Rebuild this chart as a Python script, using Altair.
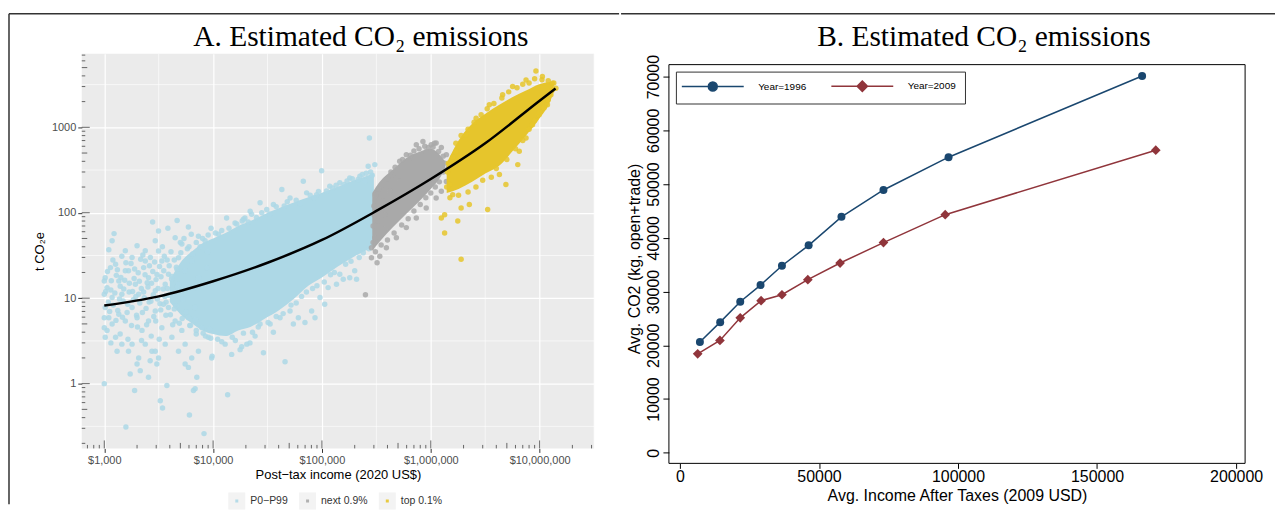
import altair as alt
import pandas as pd

# ================= Panel A : household estimates (post-tax income, t CO2e) =================
group_names = ["P0−P99", "next 0.9%", "top 0.1%"]
group_colors = ["#ADD8E6", "#A9A9A9", "#E6C52C"]

blue_points = [
    (2780, 78), (4670, 81), (1230, 57), (1180, 47), (1560, 36), (2000, 41), (3150, 61), (3840, 66),
    (5930, 68), (7330, 53), (9570, 66), (13300, 87), (15900, 76), (19600, 87), (22600, 96), (1100, 37),
    (1450, 31), (1800, 30), (2380, 36), (2940, 47), (4480, 51), (5160, 43), (8430, 47), (11200, 56),
    (1020, 17.4), (1060, 13.3), (1140, 22.8), (1270, 24.9), (1360, 15.9), (1670, 20.9), (1930, 14.6),
    (2300, 22.8), (2550, 17.4), (3380, 27.2), (3890, 19.1), (4810, 29.8), (5530, 20.9), (6360, 27.2),
    (7330, 17.4), (8740, 22.8), (3630, 14.6), (2940, 12.2), (2070, 11.1), (1450, 11.1), (1180, 10.2),
    (6830, 13.3), (4810, 14.6), (2380, 27.2), (1560, 20.9), (3150, 35.7),
    (1090, 9.0), (1150, 12.5), (1210, 8.3), (1290, 18.5), (1330, 7.2), (1400, 13.8), (1490, 9.3),
    (1540, 16.2), (1620, 6.8), (1690, 11.8), (1760, 25.5), (1850, 9.6), (1880, 17.0), (1980, 6.3),
    (2050, 19.8), (2120, 8.8), (2190, 13.0), (2260, 32), (2330, 10.1), (2420, 7.6), (2480, 15.2),
    (2600, 24.0), (2680, 9.2), (2790, 20.5), (2850, 6.1), (2990, 16.5), (3080, 9.8), (3220, 23.5),
    (3300, 7.3), (3480, 12.8), (3560, 31.0), (3700, 9.0), (3950, 24.0), (4050, 6.4), (4150, 16.8),
    (4300, 11.5), (4550, 8.1), (4650, 21.8), (4900, 5.1), (5050, 34), (5300, 9.7), (5650, 6.9),
    (5800, 38), (6100, 4.8), (6500, 33), (6900, 5.6), (7600, 40), (8100, 3.9), (8900, 35), (9300, 4.4),
    (1020, 7.8), (1100, 5.9), (1060, 4.2), (1180, 5.0), (1360, 6.5), (1560, 5.4), (1800, 7.8),
    (2000, 5.9), (2220, 4.2), (2550, 5.4), (2940, 7.1), (3380, 4.5), (3890, 7.8), (4480, 5.4),
    (5160, 4.2), (5930, 5.9), (6830, 7.8), (7860, 4.5), (9040, 3.5), (1270, 3.5), (1450, 2.9),
    (1670, 2.4), (1800, 2.9), (2070, 2.0), (2380, 2.9), (2740, 2.4), (3150, 2.0), (3630, 2.9),
    (4180, 3.5), (4810, 2.4), (5530, 2.9), (6360, 2.0), (7330, 2.4), (9710, 2.0), (12900, 2.9),
    (14800, 2.2), (18300, 2.7), (21800, 3.0), (2000, 1.7), (2640, 1.85), (3040, 1.7), (1310, 2.4),
    (1730, 1.3), (2140, 1.42), (2550, 1.19), (2940, 2.4), (5930, 1.55), (7080, 1.19), (5530, 1.7),
    (1000, 1.0), (1900, 0.83), (3760, 0.95), (3270, 0.63), (3430, 0.52), (6590, 0.83), (6830, 0.87),
    (6060, 0.43), (1580, 0.31), (8250, 0.26), (13600, 0.74),
    (1000, 15.9), (1000, 11.1), (1000, 5.9), (1000, 4.5), (1020, 3.5),
    (1030, 12.0), (1070, 20.5), (1120, 7.0), (1160, 16.0), (1200, 28.0), (1250, 11.5), (1280, 5.5),
    (1320, 21.5), (1380, 9.8), (1420, 17.5), (1470, 6.0), (1510, 12.8), (1580, 26.0), (1640, 8.5),
    (1700, 15.0), (1780, 4.8), (1820, 12.0), (1900, 22.0), (1950, 10.5), (2020, 4.6), (2100, 15.8),
    (2160, 28.5), (2240, 6.8), (2300, 11.8), (2370, 18.8), (2450, 4.9), (2520, 13.5), (2580, 9.0),
    (2650, 30.0), (2720, 15.0), (2820, 11.0), (2900, 26.5), (2970, 5.4), (3050, 19.0), (3120, 13.0),
    (3250, 8.6), (3320, 17.8), (3420, 40.0), (3520, 21.0), (3680, 6.3), (3780, 28.0), (3880, 10.8),
    (4100, 35.0), (4250, 4.9), (4400, 28.0), (4700, 13.5), (5000, 45.0), (5400, 50.0), (6300, 56.0),
    (7000, 3.8), (1150, 3.0), (1400, 3.8), (1650, 3.3), (2200, 3.2), (2700, 3.6), (3200, 3.3),
    (67400, 234), (42800, 187), (99300, 311), (27000, 131), (21900, 104), (35800, 125), (50900, 149),
    (72300, 171), (89300, 163), (118000, 205), (146000, 224), (180000, 256), (223000, 267),
    (266000, 350), (306000, 366), (248000, 234), (31100, 109), (19000, 84),
    (20400, 2.9), (24300, 3.6), (29000, 2.3), (45800, 1.8), (33400, 5.0), (41200, 5.9), (50900, 7.1),
    (60700, 5.9), (69800, 5.2), (80400, 7.1), (35800, 4.0), (27000, 5.0), (95900, 10.2),
    (114000, 13.3), (136000, 14.6), (157000, 16.7), (180000, 17.4), (208000, 16.7), (200000, 20.9),
    (146000, 19.1), (106000, 8.5), (86300, 5.9), (54600, 5.0), (9800, 2.1), (17700, 2.5), (273000, 750),
    (25000, 88), (28000, 100), (33000, 97), (38000, 118), (45000, 120), (48000, 135), (58000, 140),
    (63000, 128), (78000, 160), (85000, 150), (93000, 178), (110000, 180), (125000, 195), (135000, 210),
    (160000, 215), (170000, 235), (190000, 250), (215000, 245), (235000, 280), (255000, 290),
    (280000, 300), (290000, 275), (12000, 62), (14000, 66), (16500, 74), (18500, 80), (21000, 78),
    (6000, 40), (7000, 45), (8000, 50), (9000, 55), (10500, 58),
    (11000, 3.3), (12000, 3.1), (15000, 3.5), (16000, 3.2), (19000, 3.9), (23000, 4.0), (26000, 4.6),
    (32000, 5.2), (38000, 6.1), (44000, 6.6), (52000, 8.3), (58000, 8.8), (65000, 10.5), (72000, 11.8),
    (82000, 13), (90000, 14), (105000, 15.5), (120000, 18.8), (130000, 20), (165000, 25), (185000, 27),
    (220000, 30), (240000, 34), (270000, 38), (7000, 4.2), (8500, 3.6), (9500, 3.4), (6200, 4.8),
    (5200, 5.8), (4400, 7.5), (3600, 10.5), (3800, 13), (4200, 18), (4600, 23), (3500, 8.5),
]

gray_points = [
    (321000, 26), (285000, 39), (306000, 51), (391000, 67), (377000, 95), (420000, 179), (450000, 279),
    (518000, 400), (596000, 479), (736000, 625), (847000, 684), (1010000, 625), (1120000, 655),
    (1250000, 582), (1390000, 479), (1440000, 334), (1390000, 233), (1250000, 179), (1120000, 149),
    (908000, 114), (736000, 87), (596000, 67), (483000, 51), (391000, 39), (340000, 31),
    (1080000, 650), (908000, 523), (686000, 438), (518000, 233), (365000, 136), (328000, 80),
    (251000, 11), (285000, 29.8),
    (300000, 120), (310000, 160), (330000, 190), (350000, 210), (400000, 250), (430000, 300),
    (470000, 340), (550000, 420), (650000, 470), (700000, 530), (780000, 560), (880000, 600),
    (950000, 580), (1050000, 590), (1180000, 520), (1300000, 460), (1340000, 380), (1300000, 300),
    (1200000, 230), (1100000, 200), (1000000, 170), (900000, 150), (800000, 125), (700000, 105),
    (620000, 85), (540000, 72), (460000, 58), (400000, 48), (350000, 42), (310000, 35), (295000, 45),
    (295000, 70), (300000, 95),
]

yellow_points = [
    (9250000, 4570), (10600000, 3930), (13100000, 3280), (14100000, 2870), (12700000, 2400),
    (11800000, 1840), (9900000, 1400), (8600000, 1070), (7500000, 750), (6500000, 524), (6300000, 366),
    (4900000, 214), (4270000, 280), (3330000, 109), (2260000, 125), (1900000, 114), (1770000, 80),
    (1340000, 95), (1250000, 87), (1340000, 58), (1900000, 28.5), (1590000, 163), (1490000, 214),
    (1710000, 524), (2110000, 820), (2610000, 1280), (3450000, 1840), (4570000, 2400),
    (5650000, 3000), (7500000, 3590),
    (1420000, 300), (1450000, 380), (1600000, 450), (1700000, 650), (1900000, 800), (2200000, 950),
    (2500000, 1150), (2900000, 1400), (3300000, 1650), (3800000, 1900), (4500000, 2200),
    (5200000, 2600), (6200000, 2900), (7000000, 3200), (8000000, 3300), (9000000, 3700),
    (10500000, 3600), (12000000, 3500), (13500000, 3300), (13000000, 2700), (12000000, 2100),
    (11000000, 1700), (10000000, 1500), (9000000, 1200), (8000000, 950), (7000000, 700),
    (6000000, 560), (5000000, 420), (4000000, 330), (3600000, 260), (3000000, 240), (2600000, 200),
    (2200000, 175), (1800000, 160), (1500000, 150), (1400000, 200),
]

# dense cores of the three clouds (lower / upper edge)
blue_core_income = [4000, 5000, 6500, 8000, 10000, 13000, 17000, 22000, 30000, 40000, 55000,
                    75000, 100000, 140000, 200000, 260000, 300000]
blue_core_low = [9, 6.5, 5, 4.2, 3.8, 3.6, 4.2, 4.6, 5.8, 7.2, 9.8, 14, 17.5, 23.5, 31, 37, 42]
blue_core_high = [16, 26, 36, 44, 50, 58, 70, 80, 97, 113, 132, 152, 172, 202, 242, 272, 290]

gray_core_income = [290000, 340000, 450000, 600000, 800000, 1000000, 1200000, 1350000]
gray_core_low = [36, 46, 68, 98, 140, 190, 250, 330]
gray_core_high = [170, 230, 320, 440, 520, 560, 480, 400]

yellow_core_income = [1400000, 1800000, 2400000, 3200000, 4300000, 5600000, 7500000, 9900000,
                      12500000, 13500000]
yellow_core_low = [170, 190, 230, 290, 360, 520, 800, 1250, 2000, 2600]
yellow_core_high = [380, 700, 1100, 1450, 1850, 2250, 2700, 3200, 3400, 3200]

fit_income = [1000, 3162, 10000, 31623, 100000, 316228, 1000000, 3162278, 10000000, 14000000]
fit_co2 = [8.2, 10.5, 15.8, 26, 48, 105, 248, 650, 2050, 2850]

x_major = [1e3, 1e4, 1e5, 1e6, 1e7]
y_major = [1, 10, 100, 1000]
x_minor = [3162.3, 31623, 316228, 3162278, 31622777]
y_minor = [0.3162, 3.162, 31.62, 316.2, 3162]

x_tick_long = [1e3, 1e4, 1e5, 1e6, 1e7]
x_tick_mid = [5e3, 5e4, 5e5, 5e6]
x_tick_short = [700, 800, 900] + [m * 10 ** k for k in range(3, 7) for m in (2, 3, 4, 6, 7, 8, 9)] + [2e7, 3e7]
y_tick_long = [1, 10, 100, 1000]
y_tick_mid = [0.5, 5, 50, 500, 5000]
y_tick_short = [m * 10.0 ** k for k in range(-1, 3) for m in (2, 3, 4, 6, 7, 8, 9)] + [2000, 3000, 4000, 6000, 7000]

# ================= Panel B : Stata line plot =================
years = ["1996", "2009"]
year_colors = ["#1A476F", "#90353B"]
inc_1996 = [7200, 14500, 21700, 29000, 36700, 46300, 58100, 73200, 96600, 166200]
co2_1996 = [20600, 24300, 28100, 31200, 34800, 38600, 43900, 48900, 55000, 70100]
inc_2009 = [6400, 14400, 21700, 29200, 36700, 46000, 57600, 73200, 95400, 171100]
co2_2009 = [18400, 20900, 25100, 28300, 29400, 32200, 35300, 39100, 44300, 56300]
xB_ticks = [0, 50000, 100000, 150000, 200000]
yB_ticks = [0, 10000, 20000, 30000, 40000, 50000, 60000, 70000]

# ---------------- build tables ----------------
pts = pd.DataFrame(
    [(x, y, group_names[0]) for x, y in blue_points]
    + [(x, y, group_names[1]) for x, y in gray_points]
    + [(x, y, group_names[2]) for x, y in yellow_points],
    columns=["income", "co2", "group"],
)
blue_core = pd.DataFrame({"income": blue_core_income, "co2": blue_core_low, "co2_hi": blue_core_high})
gray_core = pd.DataFrame({"income": gray_core_income, "co2": gray_core_low, "co2_hi": gray_core_high})
yellow_core = pd.DataFrame({"income": yellow_core_income, "co2": yellow_core_low, "co2_hi": yellow_core_high})
fit = pd.DataFrame({"income": fit_income, "co2": fit_co2})

dfB = pd.DataFrame({
    "income": inc_1996 + inc_2009,
    "co2": co2_1996 + co2_2009,
    "year": [years[0]] * len(inc_1996) + [years[1]] * len(inc_2009),
})

one = alt.Data(values=[{"k": 1}])
SANS = "Liberation Sans"
SERIF = "Liberation Serif"

# ---------------- Panel A ----------------
WA, HA = 514, 396
sxA = alt.Scale(type="log", domain=[621, 31700000], nice=False)
syA = alt.Scale(type="log", domain=[0.1745, 7280], nice=False)
axxA = alt.Axis(values=x_major, format="$,.0f", title="Post−tax income (2020 US$)", grid=True,
                gridColor="white", gridWidth=1.2, domain=False, tickColor="#333333", tickSize=4,
                labelFontSize=11, labelColor="#4D4D4D", labelFont=SANS, labelPadding=2, labelFlush=False,
                titleFont=SANS, titleFontSize=13, titleFontWeight="normal", titleColor="black", titlePadding=3)
axyA = alt.Axis(values=y_major, format="d", title="t CO₂e", grid=True, gridColor="white", gridWidth=1.2,
                domain=False, tickColor="#333333", tickSize=4, labelFontSize=11, labelColor="#4D4D4D",
                labelFont=SANS, labelPadding=2, labelFlush=False, titleFont=SANS, titleFontSize=13,
                titleFontWeight="normal", titleColor="black", titlePadding=5)
XA = alt.X("income:Q", scale=sxA, axis=axxA)
YA = alt.Y("co2:Q", scale=syA, axis=axyA)

legA = alt.Legend(orient="none", legendX=147, legendY=440, direction="horizontal", title=None,
                  symbolType="square", symbolSize=100, symbolStrokeColor="#F2F2F2", symbolStrokeWidth=7,
                  symbolOpacity=0.9, labelFontSize=10.5, labelFont=SANS, labelColor="#333333",
                  labelOffset=5, columnPadding=0, padding=0)
colA = alt.Color("group:N", scale=alt.Scale(domain=group_names, range=group_colors), legend=legA)

layersA = [
    alt.Chart(pd.DataFrame({"income": x_minor})).mark_rule(color="white", strokeWidth=0.6).encode(x=XA),
    alt.Chart(pd.DataFrame({"co2": y_minor})).mark_rule(color="white", strokeWidth=0.6).encode(y=YA),
]
for core, pname, colr in [(blue_core, group_names[0], group_colors[0]),
                          (gray_core, group_names[1], group_colors[1]),
                          (yellow_core, group_names[2], group_colors[2])]:
    layersA.append(alt.Chart(core).mark_area(color=colr, opacity=1, interpolate="monotone")
                   .encode(x=XA, y=YA, y2="co2_hi:Q"))
    layersA.append(alt.Chart(pts).transform_filter(alt.datum.group == pname)
                   .mark_circle(size=30, opacity=0.85).encode(x=XA, y=YA, color=colA))
layersA.append(alt.Chart(fit).mark_line(color="black", strokeWidth=2.5, interpolate="monotone")
               .encode(x=XA, y=YA))
for vals, ln in [(y_tick_long, 8), (y_tick_mid, 5.5), (y_tick_short, 3.5)]:
    layersA.append(alt.Chart(pd.DataFrame({"co2": vals})).mark_rule(color="#444444", strokeWidth=0.8)
                   .encode(y=YA, x=alt.value(0), x2=alt.value(ln)))
for vals, ln in [(x_tick_long, 8), (x_tick_mid, 5.5), (x_tick_short, 3.5)]:
    layersA.append(alt.Chart(pd.DataFrame({"income": vals})).mark_rule(color="#444444", strokeWidth=0.8)
                   .encode(x=XA, y=alt.value(HA), y2=alt.value(HA - ln)))
# outer frame of the figure and panel title
layersA.append(alt.Chart(one).mark_rule(color="#333333", strokeWidth=1.5)
               .encode(x=alt.value(-73), x2=alt.value(539), y=alt.value(-40)))
layersA.append(alt.Chart(one).mark_rule(color="#333333", strokeWidth=1.5)
               .encode(x=alt.value(-73), y=alt.value(-40), y2=alt.value(452)))
layersA.append(alt.Chart(one).mark_text(text="A. Estimated CO₂ emissions", font=SERIF, fontSize=29.5,
                                        align="center", baseline="alphabetic", color="black")
               .encode(x=alt.value(280), y=alt.value(-8)))

chartA = alt.layer(*layersA).properties(width=WA, height=HA,
                                        view=alt.ViewBackground(fill="#EBEBEB", strokeWidth=0))

# ---------------- Panel B ----------------
WB, HB = 578, 411
TOPB = 11  # the Stata plot frame starts 11px below the panel top
sxB = alt.Scale(domain=[-3943, 203226], nice=False, zero=False)
syB = alt.Scale(domain=[-1985, 74267], nice=False, zero=False)
axxB = alt.Axis(values=xB_ticks, format="d", title="Avg. Income After Taxes (2009 USD)", grid=False,
                domain=False, tickColor="black", tickSize=5, labelFontSize=16, labelColor="black",
                labelFont=SANS, labelPadding=0, labelFlush=False, titleFont=SANS, titleFontSize=16,
                titleFontWeight="normal", titleColor="black", titlePadding=3)
axyB = alt.Axis(values=yB_ticks, format="d", labelAngle=270, title="Avg. CO2 (kg, open+trade)", grid=False,
                domain=False, tickColor="black", tickSize=6, labelFontSize=16, labelColor="black",
                labelFont=SANS, labelPadding=1, labelFlush=False, titleFont=SANS, titleFontSize=16,
                titleFontWeight="normal", titleColor="black", titlePadding=4)
XB = alt.X("income:Q", scale=sxB, axis=axxB)
YB = alt.Y("co2:Q", scale=syB, axis=axyB)

circle_path = "M-6.9,0H-1M1,0H6.9M1,0A1,1 0 1,1 -1,0A1,1 0 1,1 1,0Z"
diamond_path = "M-6.9,0H-1.15M1.15,0H6.9M0,-1.15L1.15,0L0,1.15L-1.15,0Z"
legB = alt.Legend(orient="none", legendX=7, legendY=7 + TOPB, direction="horizontal", title=None,
                  labelExpr="'Year=' + datum.label", symbolSize=81, symbolStrokeWidth=1.5,
                  symbolOffset=22.5, labelFontSize=10, labelFont=SANS, labelColor="black", labelOffset=40,
                  columnPadding=21, padding=9, strokeColor="#333333", fillColor="white")

layersB = []
for yr, colr, shp, sz in [(years[0], year_colors[0], "circle", 64), (years[1], year_colors[1], "diamond", 95)]:
    layersB.append(alt.Chart(dfB).transform_filter(alt.datum.year == yr)
                   .mark_line(color=colr, strokeWidth=1.5).encode(x=XB, y=YB))
    layersB.append(alt.Chart(dfB).transform_filter(alt.datum.year == yr)
                   .mark_point(filled=True, shape=shp, size=sz, color=colr, opacity=1).encode(x=XB, y=YB))
layersB.append(
    alt.Chart(dfB).transform_filter("false")
    .mark_point(filled=True, opacity=1, size=81, strokeWidth=1.5)
    .encode(x=XB, y=YB,
            color=alt.Color("year:N", scale=alt.Scale(domain=years, range=year_colors), legend=legB),
            stroke=alt.Stroke("year:N", scale=alt.Scale(domain=years, range=year_colors), legend=legB),
            shape=alt.Shape("year:N", scale=alt.Scale(domain=years, range=[circle_path, diamond_path]),
                            legend=legB))
)
# plot-region frame
frame = alt.Chart(one).mark_rule(color="black", strokeWidth=1)
layersB += [
    frame.encode(x=alt.value(0), x2=alt.value(WB), y=alt.value(TOPB)),
    frame.encode(x=alt.value(0), x2=alt.value(WB), y=alt.value(HB)),
    frame.encode(x=alt.value(0), y=alt.value(TOPB), y2=alt.value(HB)),
    frame.encode(x=alt.value(WB), y=alt.value(TOPB), y2=alt.value(HB)),
]
layersB.append(alt.Chart(one).mark_rule(color="#333333", strokeWidth=1.5)
               .encode(x=alt.value(-48), x2=alt.value(608), y=alt.value(-40)))
layersB.append(alt.Chart(one).mark_text(text="B. Estimated CO₂ emissions", font=SERIF, fontSize=29.5,
                                        align="center", baseline="alphabetic", color="black")
               .encode(x=alt.value(316), y=alt.value(-8)))

chartB = alt.layer(*layersB).properties(width=WB, height=HB,
                                        view=alt.ViewBackground(fill="white", strokeWidth=0))

chart = (
    alt.hconcat(chartA, chartB, spacing=0)
    .resolve_scale(color="independent", stroke="independent", shape="independent")
    .resolve_legend(color="independent", stroke="independent", shape="independent")
    .properties(padding={"left": 0, "top": 4, "right": 0, "bottom": 0}, background="white")
    .configure(font=SANS)
    .configure_view(strokeWidth=0)
)

chart.save("out.html", embed_options={"renderer": "svg", "actions": False})
